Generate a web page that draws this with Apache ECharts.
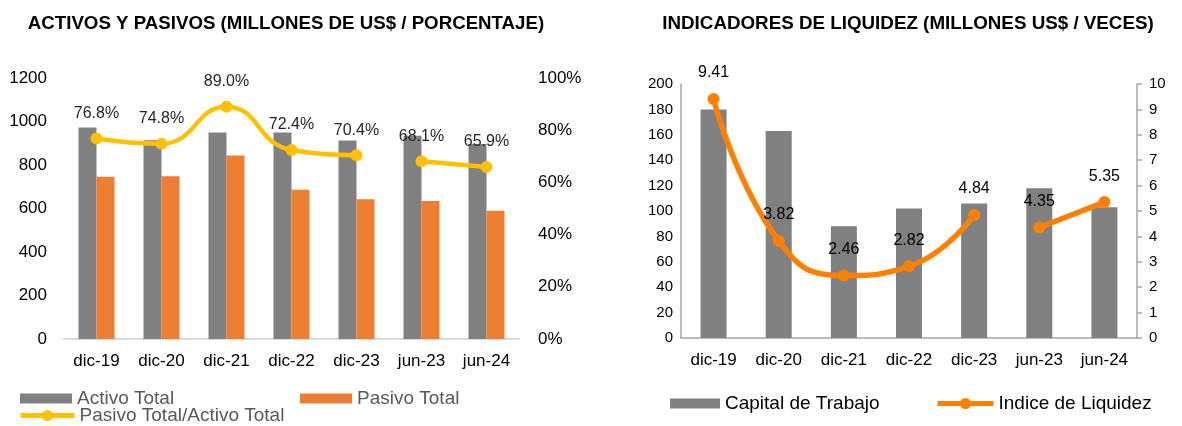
<!DOCTYPE html>
<html>
<head>
<meta charset="utf-8">
<script src="https://cdn.jsdelivr.net/npm/echarts@6/dist/echarts.min.js"></script>
<style>
    html, body { margin: 0; padding: 0; background: #fff; }
    #chart { width: 1182px; height: 426px; }
</style>
</head>
<body>
<div id="chart"></div>
<script>
const categories = ['dic-19', 'dic-20', 'dic-21', 'dic-22', 'dic-23', 'jun-23', 'jun-24'];
const activoTotal = [972, 914, 950, 950, 913, 934, 896];
const pasivoTotal = [746, 748, 844, 686, 642, 635, 590];
const ratioPasivoActivo = [76.8, 74.8, 89.0, 72.4, 70.4, 68.1, 65.9];
const capitalTrabajo = [180, 163, 88, 102, 106, 118, 103];
const indiceLiquidez = [9.41, 3.82, 2.46, 2.82, 4.84, 4.35, 5.35];
// la linea se corta entre dic-23 y jun-23
const breakAt = 5;

const FONT = '"Liberation Sans", Arial, sans-serif';

const firstPart = arr => arr.map((v, i) => (i < breakAt ? v : '-'));
const secondPart = arr => arr.map((v, i) => (i >= breakAt ? v : '-'));

const chart = echarts.init(document.getElementById('chart'));

const ratioLine = (data) => ({
    name: 'Pasivo Total/Activo Total',
    type: 'line',
    xAxisIndex: 0,
    yAxisIndex: 1,
    smooth: true,
    symbol: 'circle',
    symbolSize: 12,
    lineStyle: { width: 4.5, color: '#FFC000' },
    itemStyle: { color: '#FFC000' },
    label: {
        show: true,
        position: 'top',
        distance: 11,
        fontSize: 16,
        fontFamily: FONT,
        color: '#262626',
        formatter: p => p.value.toFixed(1) + '%'
    },
    data: data
});

const liquidezLine = (data) => ({
    name: 'Indice de Liquidez',
    type: 'line',
    xAxisIndex: 1,
    yAxisIndex: 3,
    smooth: true,
    symbol: 'circle',
    symbolSize: 12,
    lineStyle: { width: 5.5, color: '#FF8000' },
    itemStyle: { color: '#FF8000' },
    label: {
        show: true,
        position: 'top',
        distance: 12,
        fontSize: 16,
        fontFamily: FONT,
        color: '#000',
        formatter: p => p.value.toFixed(2)
    },
    data: data
});

const legendItem = (data, left, top, w, h, color, extra) => Object.assign({
    data: data,
    left: left,
    top: top,
    padding: 0,
    itemWidth: w,
    itemHeight: h,
    textStyle: { fontSize: 19, fontFamily: FONT, color: color }
}, extra || {});

chart.setOption({
    animation: false,
    backgroundColor: '#fff',
    title: [
        {
            text: 'ACTIVOS Y PASIVOS (MILLONES DE US$ / PORCENTAJE)',
            left: 281, top: 9, textAlign: 'center',
            textStyle: { fontSize: 18.7, fontWeight: 'bold', fontFamily: FONT, color: '#000' }
        },
        {
            text: 'INDICADORES DE LIQUIDEZ (MILLONES US$ / VECES)',
            left: 903, top: 9, textAlign: 'center',
            textStyle: { fontSize: 18.8, fontWeight: 'bold', fontFamily: FONT, color: '#000' }
        }
    ],
    legend: [
        legendItem([{ name: 'Activo Total', icon: 'rect' }], 20, 389, 52, 10, '#595959'),
        legendItem([{ name: 'Pasivo Total', icon: 'rect' }], 300, 389, 52, 10, '#595959'),
        legendItem(['Pasivo Total/Activo Total'], 18, 406, 54, 14, '#595959',
            { lineStyle: { width: 5 } }),
        legendItem([{ name: 'Capital de Trabajo', icon: 'rect' }], 670, 394, 50, 10, '#000'),
        legendItem(['Indice de Liquidez'], 935, 394, 56, 14, '#000',
            { lineStyle: { width: 5 } })
    ],
    grid: [
        { left: 64, right: 663, top: 78, bottom: 87, outerBoundsMode: 'none', containLabel: false },
        { left: 681, right: 45, top: 84, bottom: 88, outerBoundsMode: 'none', containLabel: false }
    ],
    xAxis: [
        {
            type: 'category', gridIndex: 0, data: categories,
            axisLine: { lineStyle: { color: '#d9d9d9', width: 2 } },
            axisTick: { show: false },
            axisLabel: { fontSize: 17, fontFamily: FONT, color: '#000', margin: 14 }
        },
        {
            type: 'category', gridIndex: 1, data: categories,
            axisLine: { lineStyle: { color: '#a6a6a6', width: 1.5 } },
            axisTick: { show: false },
            axisLabel: { fontSize: 17, fontFamily: FONT, color: '#000', margin: 14 }
        }
    ],
    yAxis: [
        {
            type: 'value', gridIndex: 0, min: 0, max: 1200, interval: 200,
            axisLine: { show: false }, axisTick: { show: false }, splitLine: { show: false },
            axisLabel: { fontSize: 17, fontFamily: FONT, color: '#000', margin: 17, formatter: v => String(v) }
        },
        {
            type: 'value', gridIndex: 0, min: 0, max: 100, interval: 20, position: 'right',
            axisLine: { show: false }, axisTick: { show: false }, splitLine: { show: false },
            axisLabel: { fontSize: 17, fontFamily: FONT, color: '#000', margin: 19, formatter: '{value}%' }
        },
        {
            type: 'value', gridIndex: 1, min: 0, max: 200, interval: 20,
            axisLine: { show: true, lineStyle: { color: '#a6a6a6', width: 1.5 } },
            axisTick: { show: false }, splitLine: { show: false },
            axisLabel: { fontSize: 15, fontFamily: FONT, color: '#000', margin: 8 }
        },
        {
            type: 'value', gridIndex: 1, min: 0, max: 10, interval: 1, position: 'right',
            axisLine: { show: true, lineStyle: { color: '#a6a6a6', width: 1.5 } },
            axisTick: { show: true, inside: false, length: 5, lineStyle: { color: '#a6a6a6', width: 1.5 } },
            splitLine: { show: false },
            axisLabel: { fontSize: 15, fontFamily: FONT, color: '#000', margin: 12 }
        }
    ],
    series: [
        {
            name: 'Activo Total', type: 'bar', xAxisIndex: 0, yAxisIndex: 0,
            barWidth: 18, barGap: '0%',
            itemStyle: { color: '#808080' },
            data: activoTotal
        },
        {
            name: 'Pasivo Total', type: 'bar', xAxisIndex: 0, yAxisIndex: 0,
            barWidth: 18, barGap: '0%',
            itemStyle: { color: '#ED7D31' },
            data: pasivoTotal
        },
        ratioLine(firstPart(ratioPasivoActivo)),
        ratioLine(secondPart(ratioPasivoActivo)),
        {
            name: 'Capital de Trabajo', type: 'bar', xAxisIndex: 1, yAxisIndex: 2,
            barWidth: 26,
            itemStyle: { color: '#808080' },
            data: capitalTrabajo
        },
        liquidezLine(firstPart(indiceLiquidez)),
        liquidezLine(secondPart(indiceLiquidez))
    ]
});

window.addEventListener('resize', function () {
    chart.resize();
});
</script>
</body>
</html>
